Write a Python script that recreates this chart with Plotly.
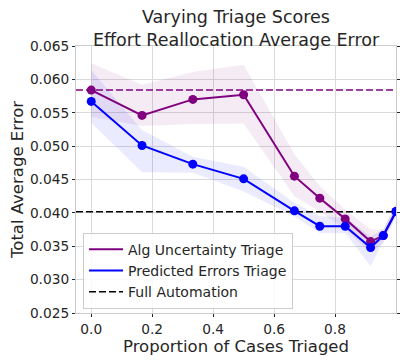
import plotly.graph_objects as go

# proportion of cases triaged
triage_prop = [0.0, 1/6, 1/3, 1/2, 2/3, 3/4, 5/6, 11/12, 23/24, 1.0]

# Alg uncertainty triage (purple)
alg_mean  = [0.0584, 0.0546, 0.0570, 0.0577, 0.0455, 0.0422, 0.0391, 0.0357, 0.0366, 0.0402]
alg_upper = [0.0624, 0.0592, 0.0611, 0.0622, 0.0488, 0.0440, 0.0405, 0.0375, 0.0375, 0.0412]
alg_lower = [0.0544, 0.0530, 0.0533, 0.0534, 0.0425, 0.0402, 0.0375, 0.0340, 0.0355, 0.0395]

# Predicted errors triage (blue)
pred_mean  = [0.0567, 0.0501, 0.0473, 0.0451, 0.0403, 0.0380, 0.0380, 0.0348, 0.0366, 0.0402]
pred_upper = [0.0614, 0.0524, 0.0484, 0.0469, 0.0415, 0.0395, 0.0393, 0.0365, 0.0375, 0.0415]
pred_lower = [0.0535, 0.0461, 0.0460, 0.0432, 0.0395, 0.0370, 0.0370, 0.0320, 0.0358, 0.0395]

alg_at_zero = 0.0584       # purple dashed reference
full_automation = 0.04015  # black dashed reference
x_span = [-0.05, 1.0]

y_ticks = [0.025, 0.030, 0.035, 0.040, 0.045, 0.050, 0.055, 0.060, 0.065]
x_ticks = [0.0, 0.2, 0.4, 0.6, 0.8]

PURPLE = "#800080"
BLUE   = "#0000FF"
TXT    = "#262626"
GRID   = "#dadada"
FONT   = "DejaVu Sans"
DASH   = "7px,3px"

fig = go.Figure()

# shaded bands
for up, lo, fill in [(alg_upper, alg_lower, "rgba(128,0,128,0.08)"),
                     (pred_upper, pred_lower, "rgba(0,0,255,0.08)")]:
    fig.add_trace(go.Scatter(
        x=triage_prop + triage_prop[::-1],
        y=up + lo[::-1],
        fill="toself", fillcolor=fill,
        line=dict(width=0), mode="lines",
        hoverinfo="skip", showlegend=False,
    ))

# dashed references
fig.add_trace(go.Scatter(
    x=x_span, y=[alg_at_zero]*2, mode="lines",
    line=dict(color=PURPLE, width=1.5, dash=DASH), showlegend=False))
fig.add_trace(go.Scatter(
    x=x_span, y=[full_automation]*2, mode="lines",
    line=dict(color="black", width=1.5, dash=DASH), showlegend=False))

# main lines
fig.add_trace(go.Scatter(
    x=triage_prop, y=alg_mean, mode="lines+markers",
    line=dict(color=PURPLE, width=2), marker=dict(size=9, color=PURPLE),
    showlegend=False))
fig.add_trace(go.Scatter(
    x=triage_prop, y=pred_mean, mode="lines+markers",
    line=dict(color=BLUE, width=2), marker=dict(size=9, color=BLUE),
    showlegend=False))

# legend-only entries (line samples, no markers)
for name, col, dash in [("Alg Uncertainty Triage", PURPLE, "solid"),
                        ("Predicted Errors Triage", BLUE, "solid"),
                        ("Full Automation", "black", DASH)]:
    fig.add_trace(go.Scatter(
        x=[None], y=[None], mode="lines", name=name,
        line=dict(color=col, width=2 if dash == "solid" else 1.5, dash=dash)))

# page body has an 8px margin, so the figure is sized to fit the window
fig.update_layout(
    width=407, height=355,
    margin=dict(l=68, r=19, t=38, b=50),
    paper_bgcolor="white", plot_bgcolor="white",
    font=dict(family=FONT, color=TXT, size=13.75),
    title=dict(
        text="Varying Triage Scores<br>Effort Reallocation Average Error",
        x=0.5, xref="paper", xanchor="center",
        y=0.958, yref="container", yanchor="top",
        font=dict(size=17.5, color=TXT),
    ),
    legend=dict(
        x=0.022, y=0.016, xanchor="left", yanchor="bottom",
        bgcolor="rgba(255,255,255,0.85)", bordercolor="#cccccc", borderwidth=1,
        font=dict(size=14, color=TXT), itemwidth=34,
    ),
    showlegend=True,
)

fig.update_xaxes(
    range=x_span, tickvals=x_ticks, tickformat=".1f",
    showgrid=True, gridcolor=GRID, gridwidth=1,
    showline=True, linecolor="#cccccc", linewidth=1, mirror=True,
    ticks="outside", ticklen=3, tickcolor=TXT,
    zeroline=False, automargin=False,
    title=dict(text="Proportion of Cases Triaged", font=dict(size=16.5, color=TXT), standoff=4),
    tickfont=dict(size=13.75),
)
fig.update_yaxes(
    range=[0.025, 0.065], tickvals=y_ticks, tickformat=".3f",
    showgrid=True, gridcolor=GRID, gridwidth=1,
    showline=True, linecolor="#cccccc", linewidth=1, mirror="ticks",
    ticks="outside", ticklen=3, tickcolor=TXT,
    zeroline=False, automargin=False,
    title=dict(text="Total Average Error", font=dict(size=16.5, color=TXT), standoff=3),
    tickfont=dict(size=13.75),
)

fig.write_html("out.html")
